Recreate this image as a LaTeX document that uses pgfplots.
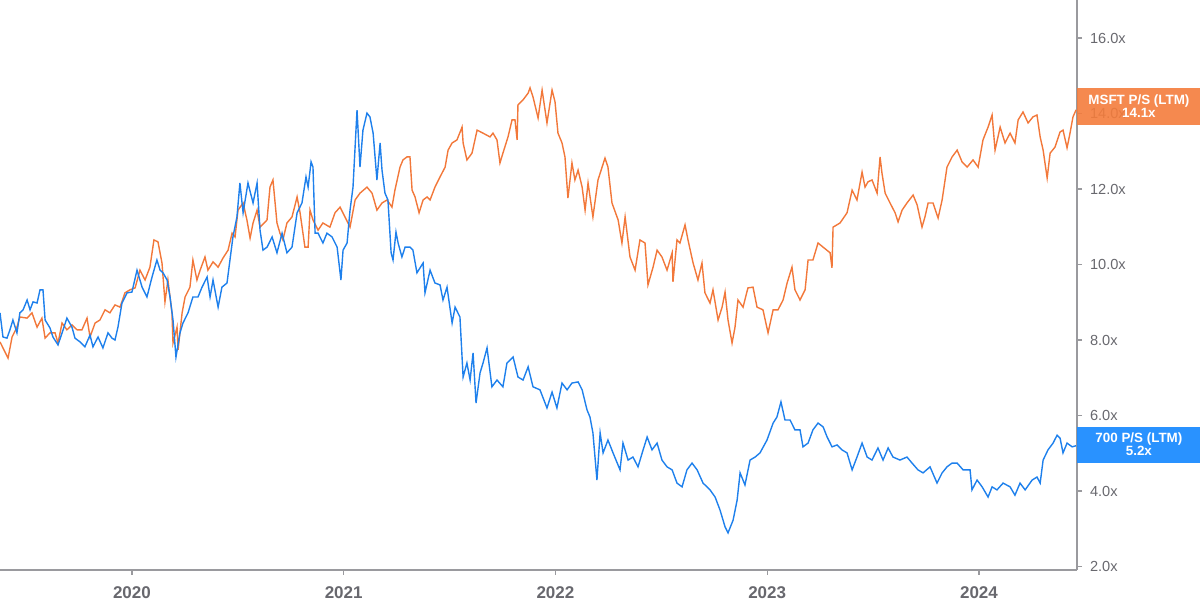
\documentclass[border=0pt]{standalone}
\usepackage{pgfplots}
\pgfplotsset{compat=1.18}
\usepackage{fontspec}
\setmainfont{Liberation Sans}
\definecolor{msft}{HTML}{F2783A}
\definecolor{tenc}{HTML}{1E80EC}
\definecolor{msftbox}{HTML}{F47C3C}
\definecolor{tencbox}{HTML}{1E8CFF}
\definecolor{axgray}{HTML}{9A9A9E}
\definecolor{txgray}{HTML}{68686E}
\begin{document}
\begin{tikzpicture}
\useasboundingbox (0,0) rectangle (600pt,304pt);
\begin{axis}[
  at={(0,19pt)}, anchor=south west,
  scale only axis, width=538.5pt, height=285pt,
  xmin=2019.377, xmax=2024.463, ymin=1.908, ymax=17.007,
  axis x line*=bottom, axis y line*=right,
  axis line style={axgray, line width=0.6pt},
  tick align=outside, major tick length=2.5pt,
  tick style={axgray, line width=0.6pt},
  xtick={2020,2021,2022,2023,2024},
  xticklabels={2020,2021,2022,2023,2024},
  xticklabel style={font=\fontsize{8.5}{10}\selectfont\bfseries, text=txgray, yshift=-2.2pt},
  ytick={2,4,6,8,10,12,14,16},
  yticklabels={2.0x,4.0x,6.0x,8.0x,10.0x,12.0x,14.0x,16.0x},
  yticklabel style={font=\fontsize{7.3}{9}\selectfont, text=txgray, xshift=0.5pt},
  clip=true,
]
\addplot[msft, line width=0.7pt] coordinates {
(2019.377,7.95)(2019.415,7.52)(2019.434,8.08)(2019.457,8.34)(2019.471,8.61)(2019.505,8.58)(2019.528,8.72)(2019.552,8.34)(2019.575,8.58)(2019.590,8.05)
(2019.613,8.19)(2019.637,8.19)(2019.651,7.92)(2019.670,8.45)(2019.693,8.27)(2019.717,8.40)(2019.741,8.27)(2019.764,8.27)(2019.788,8.58)(2019.802,8.08)
(2019.826,8.45)(2019.849,8.53)(2019.873,8.80)(2019.896,8.72)(2019.920,8.93)(2019.944,8.87)(2019.967,9.25)(2019.991,9.33)(2020.015,9.38)(2020.038,9.85)
(2020.062,9.59)(2020.085,9.93)(2020.104,10.65)(2020.123,10.60)(2020.142,10.04)(2020.156,9.01)(2020.170,9.59)(2020.189,8.72)(2020.194,7.92)(2020.213,8.34)
(2020.218,7.74)(2020.237,8.72)(2020.251,9.14)(2020.274,9.40)(2020.288,10.12)(2020.307,9.59)(2020.322,9.85)(2020.345,10.20)(2020.359,9.85)(2020.383,10.07)
(2020.407,9.93)(2020.430,10.17)(2020.454,10.38)(2020.473,10.83)(2020.487,10.73)(2020.501,11.44)(2020.525,11.63)(2020.543,11.18)(2020.558,10.70)(2020.572,11.10)
(2020.591,11.44)(2020.605,10.99)(2020.638,11.18)(2020.652,12.05)(2020.666,12.24)(2020.685,11.10)(2020.699,10.83)(2020.713,10.65)(2020.732,11.10)(2020.756,11.26)
(2020.780,11.79)(2020.794,11.37)(2020.817,10.46)(2020.832,10.46)(2020.841,11.44)(2020.855,11.18)(2020.879,10.91)(2020.902,11.10)(2020.935,10.99)(2020.959,11.37)
(2020.983,11.52)(2021.006,11.26)(2021.030,10.99)(2021.054,11.71)(2021.077,11.89)(2021.110,12.05)(2021.134,11.89)(2021.157,11.44)(2021.181,11.63)(2021.205,11.71)
(2021.228,11.52)(2021.242,11.97)(2021.266,12.58)(2021.280,12.77)(2021.299,12.85)(2021.313,12.85)(2021.323,11.97)(2021.337,11.79)(2021.356,11.37)(2021.375,11.71)
(2021.394,11.79)(2021.408,11.71)(2021.431,12.05)(2021.455,12.32)(2021.479,12.58)(2021.493,13.03)(2021.512,13.22)(2021.535,13.30)(2021.559,13.64)(2021.564,13.22)
(2021.582,12.77)(2021.606,12.95)(2021.630,13.56)(2021.658,13.48)(2021.691,13.38)(2021.705,13.48)(2021.724,13.30)(2021.738,12.69)(2021.752,12.95)(2021.776,13.38)
(2021.795,13.83)(2021.809,13.83)(2021.819,13.30)(2021.823,14.23)(2021.847,14.36)(2021.871,14.54)(2021.880,14.68)(2021.894,14.44)(2021.918,13.88)(2021.937,14.62)
(2021.960,13.75)(2021.984,14.62)(2021.998,14.31)(2022.012,13.48)(2022.031,13.22)(2022.045,12.85)(2022.059,11.76)(2022.078,12.69)(2022.092,12.24)(2022.107,12.50)
(2022.126,12.05)(2022.140,11.44)(2022.154,12.16)(2022.177,11.26)(2022.201,12.24)(2022.234,12.82)(2022.248,12.58)(2022.267,11.63)(2022.296,11.18)(2022.314,10.57)
(2022.329,11.26)(2022.352,10.20)(2022.376,9.85)(2022.399,10.65)(2022.423,10.57)(2022.437,9.46)(2022.461,9.93)(2022.480,10.38)(2022.503,10.20)(2022.527,9.85)
(2022.551,10.31)(2022.555,9.54)(2022.574,10.65)(2022.588,10.57)(2022.612,11.05)(2022.626,10.65)(2022.650,10.04)(2022.673,9.59)(2022.692,10.04)(2022.706,9.25)
(2022.730,8.98)(2022.744,9.33)(2022.768,8.53)(2022.787,8.87)(2022.801,9.27)(2022.815,8.53)(2022.834,7.92)(2022.848,8.34)(2022.862,9.06)(2022.886,8.87)
(2022.909,9.38)(2022.933,9.40)(2022.952,8.87)(2022.980,8.80)(2023.004,8.19)(2023.028,8.80)(2023.051,8.80)(2023.075,9.06)(2023.094,9.51)(2023.117,9.93)
(2023.131,9.33)(2023.155,9.06)(2023.179,9.33)(2023.193,10.12)(2023.216,10.12)(2023.240,10.57)(2023.264,10.46)(2023.297,10.31)(2023.306,9.91)(2023.311,10.99)
(2023.344,11.10)(2023.377,11.37)(2023.401,11.97)(2023.424,11.71)(2023.448,12.45)(2023.462,12.05)(2023.476,12.19)(2023.495,12.24)(2023.519,11.89)(2023.533,12.85)
(2023.542,12.42)(2023.557,11.89)(2023.580,11.63)(2023.604,11.37)(2023.618,11.13)(2023.637,11.44)(2023.660,11.63)(2023.689,11.84)(2023.708,11.58)(2023.731,10.99)
(2023.745,11.26)(2023.760,11.63)(2023.783,11.63)(2023.807,11.23)(2023.826,11.71)(2023.849,12.58)(2023.873,12.85)(2023.897,13.03)(2023.920,12.72)(2023.944,12.58)
(2023.972,12.77)(2023.996,12.58)(2024.019,13.30)(2024.043,13.64)(2024.062,13.96)(2024.076,13.03)(2024.100,13.64)(2024.123,13.22)(2024.147,13.48)(2024.170,13.22)
(2024.185,13.83)(2024.208,14.04)(2024.232,13.75)(2024.255,13.91)(2024.274,13.96)(2024.289,13.38)(2024.303,13.03)(2024.322,12.29)(2024.336,12.95)(2024.359,13.11)
(2024.383,13.51)(2024.397,13.56)(2024.416,13.09)(2024.430,13.48)(2024.444,13.91)(2024.459,14.10)
};
\addplot[tenc, line width=0.7pt] coordinates {
(2019.377,8.72)(2019.391,8.08)(2019.410,8.05)(2019.424,8.27)(2019.438,8.53)(2019.457,8.19)(2019.471,8.72)(2019.486,8.80)(2019.505,9.06)(2019.519,8.80)
(2019.533,9.01)(2019.552,8.98)(2019.566,9.33)(2019.580,9.33)(2019.590,8.53)(2019.613,8.32)(2019.627,8.08)(2019.651,7.87)(2019.675,8.27)(2019.693,8.58)
(2019.717,8.34)(2019.731,8.05)(2019.755,7.95)(2019.778,7.82)(2019.802,8.13)(2019.816,7.82)(2019.840,8.08)(2019.863,7.79)(2019.887,8.19)(2019.906,8.05)
(2019.920,8.00)(2019.934,8.34)(2019.953,8.98)(2019.977,9.25)(2020.000,9.27)(2020.024,9.85)(2020.048,9.40)(2020.071,9.14)(2020.095,9.67)(2020.118,10.12)
(2020.133,9.85)(2020.147,9.78)(2020.166,9.59)(2020.180,9.14)(2020.194,8.53)(2020.208,7.55)(2020.227,8.19)(2020.241,8.45)(2020.265,8.72)(2020.288,9.14)
(2020.312,9.14)(2020.331,9.40)(2020.355,9.67)(2020.369,9.14)(2020.383,9.59)(2020.407,8.87)(2020.425,9.40)(2020.449,9.51)(2020.463,10.12)(2020.477,10.73)
(2020.496,11.26)(2020.510,12.16)(2020.525,11.37)(2020.548,12.16)(2020.572,11.63)(2020.591,12.16)(2020.605,10.91)(2020.619,10.38)(2020.638,10.46)(2020.662,10.73)
(2020.685,10.31)(2020.709,10.83)(2020.732,10.31)(2020.756,10.46)(2020.780,11.37)(2020.803,11.63)(2020.822,12.32)(2020.832,12.05)(2020.846,12.72)(2020.855,12.58)
(2020.865,10.83)(2020.879,10.83)(2020.902,10.57)(2020.921,10.83)(2020.945,10.73)(2020.969,10.46)(2020.987,9.59)(2020.997,10.38)(2021.016,10.57)(2021.030,11.44)
(2021.044,12.05)(2021.063,14.09)(2021.077,12.58)(2021.091,13.56)(2021.110,14.01)(2021.124,13.91)(2021.139,13.48)(2021.157,12.24)(2021.172,13.22)(2021.181,12.50)
(2021.195,11.89)(2021.209,11.71)(2021.224,10.31)(2021.233,10.12)(2021.247,10.86)(2021.257,10.57)(2021.275,10.20)(2021.290,10.46)(2021.313,10.46)(2021.327,10.38)
(2021.346,9.78)(2021.375,10.04)(2021.384,9.25)(2021.408,9.85)(2021.431,9.51)(2021.455,9.46)(2021.469,9.06)(2021.488,9.40)(2021.512,8.45)(2021.526,8.87)
(2021.549,8.61)(2021.564,7.02)(2021.582,7.39)(2021.597,6.94)(2021.611,7.66)(2021.625,6.33)(2021.644,7.13)(2021.658,7.39)(2021.677,7.79)(2021.700,6.76)
(2021.724,6.94)(2021.752,6.76)(2021.771,7.39)(2021.800,7.55)(2021.823,7.02)(2021.847,6.94)(2021.871,7.29)(2021.894,6.76)(2021.927,6.68)(2021.960,6.20)
(2021.984,6.62)(2022.007,6.20)(2022.031,6.86)(2022.055,6.68)(2022.078,6.86)(2022.107,6.89)(2022.126,6.68)(2022.149,6.15)(2022.163,5.96)(2022.177,5.54)
(2022.196,4.29)(2022.211,5.54)(2022.225,5.01)(2022.248,5.35)(2022.272,5.01)(2022.305,4.56)(2022.319,5.27)(2022.343,4.82)(2022.366,4.90)(2022.390,4.64)
(2022.414,5.09)(2022.433,5.43)(2022.456,5.09)(2022.480,5.27)(2022.503,4.82)(2022.527,4.64)(2022.551,4.56)(2022.574,4.21)(2022.598,4.11)(2022.621,4.56)
(2022.645,4.74)(2022.669,4.56)(2022.697,4.21)(2022.730,4.03)(2022.754,3.84)(2022.777,3.50)(2022.801,3.05)(2022.815,2.89)(2022.839,3.23)(2022.858,3.76)
(2022.872,4.48)(2022.895,4.16)(2022.919,4.82)(2022.943,4.90)(2022.966,5.01)(2022.999,5.35)(2023.028,5.80)(2023.046,5.96)(2023.065,6.36)(2023.084,5.88)
(2023.108,5.88)(2023.131,5.62)(2023.155,5.62)(2023.169,5.17)(2023.193,5.27)(2023.216,5.62)(2023.240,5.80)(2023.264,5.70)(2023.283,5.43)(2023.306,5.17)
(2023.330,5.22)(2023.353,5.09)(2023.377,5.01)(2023.401,4.56)(2023.424,4.90)(2023.448,5.27)(2023.472,4.90)(2023.495,4.82)(2023.523,5.14)(2023.547,4.82)
(2023.571,5.14)(2023.594,4.90)(2023.627,4.82)(2023.660,4.90)(2023.684,4.74)(2023.712,4.56)(2023.736,4.48)(2023.769,4.64)(2023.802,4.21)(2023.826,4.48)
(2023.849,4.64)(2023.873,4.74)(2023.897,4.74)(2023.925,4.56)(2023.958,4.56)(2023.967,4.03)(2023.991,4.29)(2024.015,4.11)(2024.043,3.84)(2024.062,4.11)
(2024.085,4.03)(2024.114,4.21)(2024.147,4.11)(2024.170,3.89)(2024.194,4.21)(2024.218,4.03)(2024.251,4.29)(2024.274,4.37)(2024.289,4.21)(2024.303,4.82)
(2024.326,5.09)(2024.350,5.27)(2024.369,5.48)(2024.383,5.40)(2024.397,5.01)(2024.416,5.27)(2024.440,5.17)(2024.459,5.20)
};
\coordinate (mbox) at (axis cs:2024.463,14.19);
\coordinate (tbox) at (axis cs:2024.463,5.23);
\end{axis}
\node[anchor=west, fill=msftbox, fill opacity=0.9, text opacity=1, text=white, inner sep=0pt,
      minimum width=61.5pt, minimum height=18.5pt, align=center,
      font=\fontsize{6.7}{6.3}\selectfont\bfseries] at (mbox) {MSFT P/S (LTM)\\14.1x};
\node[anchor=west, fill=tencbox, fill opacity=0.95, text opacity=1, text=white, inner sep=0pt,
      minimum width=61.5pt, minimum height=18pt, align=center,
      font=\fontsize{6.7}{6.6}\selectfont\bfseries] at (tbox) {700 P/S (LTM)\\5.2x};
\end{tikzpicture}
\end{document}
